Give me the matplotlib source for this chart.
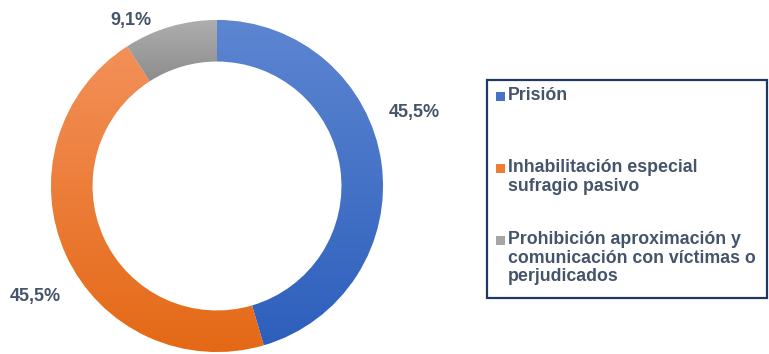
import matplotlib.pyplot as plt
import numpy as np
from matplotlib.colors import LinearSegmentedColormap
from matplotlib.patches import Rectangle

plt.rcParams['font.family'] = ['Liberation Sans', 'DejaVu Sans']

categories = ["Prisión",
              "Inhabilitación especial\nsufragio pasivo",
              "Prohibición aproximación y\ncomunicación con víctimas o\nperjudicados"]
values = [45.5, 45.5, 9.1]
labels = ["45,5%", "45,5%", "9,1%"]
# light (top) and dark (bottom) shade of each slice
shades = [("#5D86D1", "#2D5FBC"),
          ("#F39059", "#E46916"),
          ("#AEAEAE", "#8D8D8D")]
base_colors = ["#4472C4", "#ED7D31", "#A5A5A5"]

text_color = "#44546A"

fig = plt.figure(figsize=(7.69, 3.54), dpi=100)
ax = fig.add_axes([0, 0, 1, 1])

cx, cy, r = 217, 168, 166
wedges, _ = ax.pie(values, center=(cx, cy), radius=r, startangle=90,
                   counterclock=False, colors=base_colors,
                   wedgeprops=dict(width=r * 0.25, linewidth=0.6,
                                   edgecolor='white'),
                   frame=True)
ax.set_xlim(0, 769)
ax.set_ylim(0, 354)
ax.set_aspect('equal')
ax.axis('off')

# vertical gradient inside each wedge
grad = np.linspace(0, 1, 256).reshape(-1, 1)
for w, (top, bottom) in zip(wedges, shades):
    bb = w.get_path().get_extents(w.get_patch_transform())
    cmap = LinearSegmentedColormap.from_list("g", [top, bottom])
    im = ax.imshow(grad, cmap=cmap, aspect='auto', origin='upper',
                   extent=[bb.x0, bb.x1, bb.y0, bb.y1], zorder=w.get_zorder() + 0.1)
    im.set_clip_path(w)

# percentage labels
label_pos = [(414, 241), (35, 57), (131, 333)]
for (x, y), t in zip(label_pos, labels):
    ax.text(x, y, t, ha='center', va='center', fontsize=13,
            fontweight='bold', color=text_color)

# legend box
ax.add_patch(Rectangle((487, 56), 280, 218, fill=False,
                       edgecolor="#1F3864", linewidth=1.6, zorder=5))
legend_y = [258, 186, 114]
for y, name, c in zip(legend_y, categories, base_colors):
    ax.add_patch(Rectangle((496, y - 4.5), 9, 9, facecolor=c,
                           edgecolor='none', zorder=5))
    ax.text(508, y + 9, name, ha='left', va='top', fontsize=12.8,
            fontweight='bold', color=text_color, linespacing=1.12)

fig.savefig("out.png", dpi=100)
